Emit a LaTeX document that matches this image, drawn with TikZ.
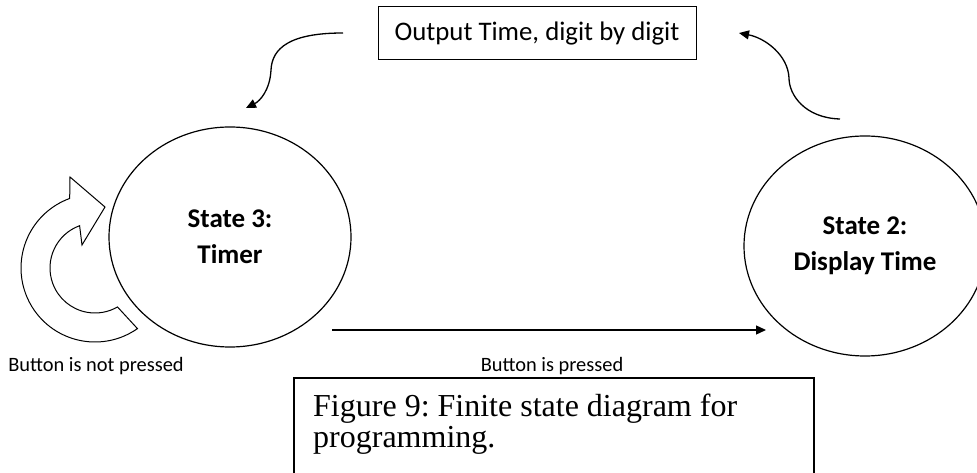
\documentclass[tikz,border=0pt]{standalone}
\usepackage{fontspec}
\setmainfont{Liberation Serif}
\newfontfamily\calibri{Carlito}
\usetikzlibrary{shapes.geometric,arrows.meta,calc}
\begin{document}
\frenchspacing
\begin{tikzpicture}[x=1pt,y=1pt,
 state/.style={ellipse,draw,line width=1.2pt,minimum width=242pt,minimum height=220pt,inner sep=0pt,
   font=\calibri\bfseries\fontsize{27}{36}\selectfont,align=center},
 conn/.style={line width=1.3pt,-{Triangle[length=10pt,width=9pt]}},
 lbl/.style={font=\calibri\fontsize{20.4}{24}\selectfont,inner sep=0pt}]
\useasboundingbox (0,0) rectangle (977,473);
% states
\node[state] (s3) at (230,236) {State 3:\\Timer};
\node[state] (s2) at (865,227) {State 2:\\Display Time};
% output box
\node[draw,line width=1pt,minimum width=318pt,minimum height=53pt,inner sep=0pt,
  font=\calibri\fontsize{26.8}{30}\selectfont] (out) at (537,439.5) {Output Time, digit by digit};
% curved arrows
\coordinate (la) at (343,440);
\coordinate (lt) at (246,365);
\draw[conn] (la) .. controls (290,440) and (272,425) .. (271,403)
  .. controls (270,383) and (260,372) .. (lt);
\coordinate (ra) at (840,354);
\coordinate (rt) at (739,440);
\draw[conn] (ra) .. controls (805,355) and (789,378) .. (789,395)
  .. controls (788,418) and (765,435) .. (rt);
% horizontal arrow
\coordinate (ha) at (332,143);
\coordinate (hb) at (766,143);
\draw[conn] (ha) -- (hb);
% circular self-loop arrow
\coordinate (cc) at (95,205);
\draw[line width=1pt,line join=miter]
  ($(cc)+(-55:74)$) arc[start angle=-55,end angle=-250,radius=74]
  -- (70,296) -- (105,266) -- (82,228)
  -- ($(cc)+(110:45)$) arc[start angle=110,end angle=300,radius=45] -- cycle;
% labels
\node[lbl] (l1) at (96,107) {Button is not pressed};
\node[lbl] (l2) at (552,107) {Button is pressed};
% caption box
\draw[line width=1.3pt] (294,-2) -- (294,95) -- (814,95) -- (814,-2);
\node[anchor=north west,inner sep=0pt,align=left,font=\fontsize{32}{31}\selectfont] (cap) at (313,79)
  {Figure 9: Finite state diagram for\\programming.};
\end{tikzpicture}
\end{document}
